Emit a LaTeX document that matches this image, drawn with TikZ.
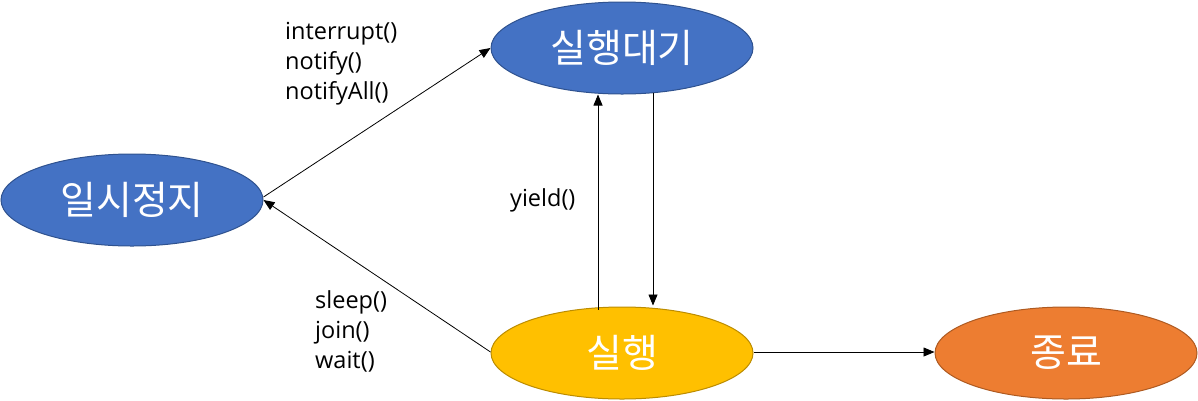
\documentclass[tikz,border=0pt]{standalone}
\usepackage{fontspec}
\setmainfont{Open Sans}
\newfontfamily\krfont{Noto Sans CJK KR}
\usetikzlibrary{shapes.geometric,arrows.meta}

\definecolor{stblue}{HTML}{4472C4}
\definecolor{stblueline}{HTML}{2F528F}
\definecolor{stgold}{HTML}{FFC000}
\definecolor{stgoldline}{HTML}{BC8C00}
\definecolor{storange}{HTML}{ED7D31}
\definecolor{storangeline}{HTML}{AE5A21}

\tikzset{
    state/.style={ellipse, minimum width=262pt, minimum height=92pt, inner sep=0pt,
        line width=1pt, text=white, font=\krfont\fontsize{39}{44}\selectfont},
    trans/.style={line width=0.8pt, -{Triangle[length=11pt,width=9pt]}},
    lbl/.style={align=left, inner sep=0pt, font=\fontsize{23.5}{30}\selectfont}
}

\begin{document}
\begin{tikzpicture}[x=1pt,y=-1pt]
        \useasboundingbox (0,0) rectangle (1198,400);

        \node[state, fill=stblue, draw=stblueline] (pause) at (132,200) {일시정지};
        \node[state, fill=stblue, draw=stblueline] (ready) at (622,48) {실행대기};
        \node[state, fill=stgold, draw=stgoldline] (run) at (622,353) {실행};
        \node[state, fill=storange, draw=storangeline] (done) at (1066,353) {종료};

        \draw[trans] ([yshift=3pt]pause.east) -- (ready.west);
        \draw[trans] ([yshift=1pt]run.west) -- (pause.east);
        \draw[trans] ([xshift=-24pt,yshift=-3pt]run.north) -- ([xshift=-24pt]ready.south);
        \draw[trans] ([xshift=31pt,yshift=2pt]ready.south) -- ([xshift=31pt,yshift=1pt]run.north);
        \draw[trans] ([yshift=1pt]run.east) -- ([yshift=1pt]done.west);

        \node[lbl, anchor=north west] (wakeup) at (285,22) {interrupt()\\notify()\\notifyAll()};
        \node[lbl, anchor=west] (yieldlbl) at (510,200) {yield()};
        \node[lbl, anchor=north west] (block) at (315,290) {sleep()\\join()\\wait()};
    \end{tikzpicture}
\end{document}
